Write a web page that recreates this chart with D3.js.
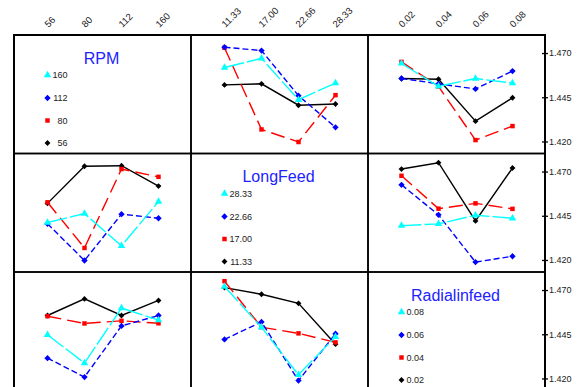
<!DOCTYPE html>
<html>
<head>
<meta charset="utf-8">
<script src="https://cdn.jsdelivr.net/npm/d3@7"></script>
<style>
  body { margin: 0; background: #fff; }
  text { font-family: "Liberation Sans", Arial, sans-serif; }
</style>
</head>
<body>
<script>

// factor names and their levels
var factors = ["RPM", "LongFeed", "Radialinfeed"];
var rpmLevels = ["56", "80", "112", "160"];
var longFeedLevels = ["11.33", "17.00", "22.66", "28.33"];
var radialLevels = ["0.02", "0.04", "0.06", "0.08"];
var yTicks = [1.420, 1.445, 1.470];

// mean response, rows = RPM level, columns = LongFeed level
var rpmByLongFeed = [
  [1.4520, 1.4526, 1.4405, 1.4412],
  [1.4730, 1.4268, 1.4197, 1.4462],
  [1.4733, 1.4714, 1.4459, 1.4280],
  [1.4618, 1.4670, 1.4436, 1.4530]
];

// rows = RPM level, columns = Radialinfeed level
var rpmByRadial = [
  [1.4556, 1.4552, 1.4315, 1.4447],
  [1.4650, 1.4511, 1.4208, 1.4287],
  [1.4556, 1.4526, 1.4497, 1.4598],
  [1.4641, 1.4512, 1.4556, 1.4530]
];

// rows = LongFeed level, columns = Radialinfeed level
var longFeedByRadial = [
  [1.4714, 1.4750, 1.4421, 1.4720],
  [1.4676, 1.4490, 1.4520, 1.4489],
  [1.4625, 1.4455, 1.4188, 1.4221],
  [1.4394, 1.4404, 1.4453, 1.4436]
];

window.onload = function() {

  var levels = [rpmLevels, longFeedLevels, radialLevels];
  var tables = {"0-1": rpmByLongFeed, "0-2": rpmByRadial, "1-2": longFeedByRadial};

  // style per level (level 1 .. level 4)
  var colors = ["#000000", "#ff0000", "#0000ff", "#00ffff"];
  var dashes = [null, "14,6", "6,3", "20,3"];
  var symbols = [d3.symbolSquare, d3.symbolSquare, d3.symbolSquare, d3.symbolTriangle];
  var symbolSizes = [17, 20, 20, 24];
  var rotations = [45, 0, 45, 0];

  // mean for factor a at level i and factor b at level j
  function meanOf(a, i, b, j) {
    if (a < b) return tables[a + "-" + b][i][j];
    return tables[b + "-" + a][j][i];
  }

  var w = 577, h = 387,
      margin = {left: 14, top: 35},
      cellW = 177, cellH = 118.5;

  var svg = d3.select("body")
    .append("svg")
    .attr("width", w)
    .attr("height", h);

  var y_scale = d3.scaleLinear()
    .domain([1.4132, 1.4802])
    .range([cellH, 0]);

  var line = d3.line();

  function marker(sel, i, x, y) {
    sel.append("path")
      .attr("transform", "translate(" + x + "," + y + ") rotate(" + rotations[i] + ")")
      .attr("d", d3.symbol().type(symbols[i]).size(symbolSizes[i]))
      .attr("fill", colors[i]);
  }

  for (var r = 0; r < 3; r++) {
    for (var c = 0; c < 3; c++) {
      var x0 = margin.left + c * cellW,
          y0 = margin.top + r * cellH;

      var x_scale = d3.scalePoint()
        .domain(levels[c])
        .range([x0 + 33.5, x0 + 144.5]);

      var g = svg.append("g");

      if (r == c) {
        make_legend(g, r, x_scale, x0, y0);
      } else {
        make_panel(g, r, c, x_scale, y0);
      }

      // panel frame
      svg.append("rect")
        .attr("x", x0)
        .attr("y", y0)
        .attr("width", cellW)
        .attr("height", cellH)
        .attr("fill", "none")
        .attr("stroke", "#000")
        .attr("stroke-width", 1.5);

      // x labels above the top row
      if (r == 0) {
        svg.selectAll(null)
          .data(levels[c])
          .enter()
          .append("text")
          .attr("transform", function(d) {
            return "translate(" + (x_scale(d) + 1) + ",28) rotate(-45)";
          })
          .attr("font-size", 9.5)
          .attr("fill", "#222")
          .text(function(d) { return d; });
      }

      // y axis on the right of the last column
      if (c == 2) {
        var yAxis = d3.axisRight(y_scale)
          .tickValues(yTicks)
          .tickFormat(d3.format(".3f"))
          .tickSize(3)
          .tickPadding(1);
        var gY = svg.append("g")
          .attr("transform", "translate(" + (x0 + cellW) + "," + y0 + ")")
          .call(yAxis);
        gY.select(".domain").remove();
        gY.selectAll(".tick line")
          .attr("x1", -3)
          .attr("stroke-width", 1.3);
        gY.selectAll(".tick text")
          .attr("font-size", 9)
          .attr("font-family", "Liberation Sans, Arial, sans-serif")
          .attr("fill", "#222");
      }
    }
  }

  // outer border a bit heavier
  svg.append("rect")
    .attr("x", margin.left)
    .attr("y", margin.top)
    .attr("width", cellW * 3)
    .attr("height", cellH * 3)
    .attr("fill", "none")
    .attr("stroke", "#000")
    .attr("stroke-width", 2);

  function make_panel(g, r, c, x_scale, y0) {
    // one line per level of the row factor, x = column factor
    for (var i = 0; i < 4; i++) {
      var pts = levels[c].map(function(lv, j) {
        return [x_scale(lv), y0 + y_scale(meanOf(r, i, c, j))];
      });

      g.append("path")
        .attr("d", line(pts))
        .attr("fill", "none")
        .attr("stroke", colors[i])
        .attr("stroke-width", 1.4)
        .attr("stroke-dasharray", dashes[i]);

      pts.forEach(function(p) { marker(g, i, p[0], p[1]); });
    }
  }

  function make_legend(g, f, x_scale, x0, y0) {
    // factor title
    g.append("text")
      .attr("x", x0 + cellW / 2 - 1)
      .attr("y", y0 + 28.5)
      .attr("text-anchor", "middle")
      .attr("font-size", 16)
      .attr("fill", "#2222ff")
      .text(factors[f]);

    var mx = x_scale(levels[f][0]);
    var rowsY = [108, 85.5, 63, 40];

    for (var i = 0; i < 4; i++) {
      marker(g, i, mx, y0 + rowsY[i]);
    }

    var labels = g.selectAll(".lab")
      .data(levels[f])
      .enter()
      .append("text")
      .attr("class", "lab")
      .attr("y", function(d, i) { return y0 + rowsY[i]; })
      .attr("dy", "0.35em")
      .attr("font-size", 9)
      .attr("fill", "#222")
      .text(function(d) { return d; });

    // right align the labels on the longest one
    var maxLen = d3.max(labels.nodes(), function(n) { return n.getComputedTextLength(); });
    labels.attr("text-anchor", "end")
      .attr("x", mx + 5 + maxLen);
  }
};

</script>
</body>
</html>
